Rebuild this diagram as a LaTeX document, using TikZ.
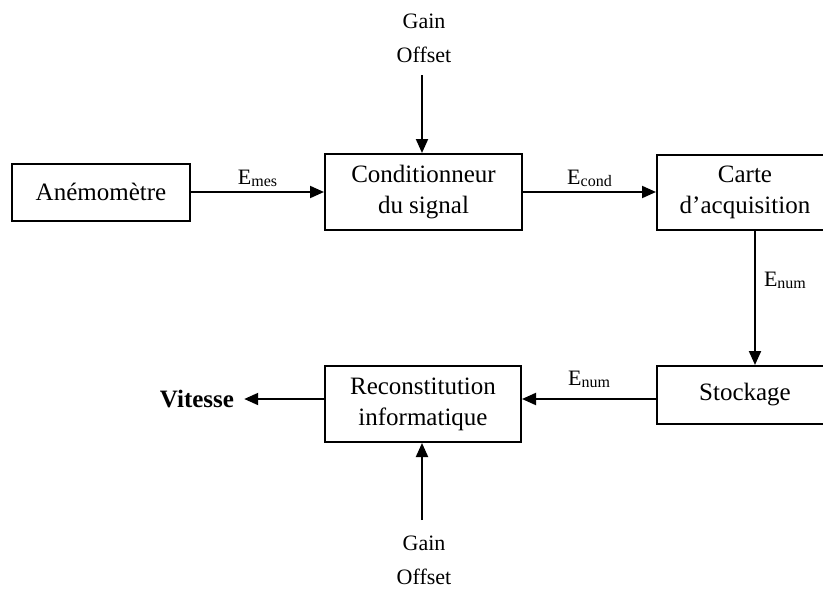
\documentclass[tikz,border=0pt]{standalone}
\usepackage{fontspec}
\setmainfont{Liberation Serif}
\usetikzlibrary{arrows.meta}
\newcommand{\sig}[1]{E\raisebox{-0.12em}{\fontsize{16}{16}\selectfont #1}}
\begin{document}
\begin{tikzpicture}[x=1pt,y=-1pt,
  blk/.style={draw,line width=2pt,align=center,inner sep=0pt,
    font=\fontsize{25}{31}\selectfont},
  con/.style={line width=2pt,-{Triangle[length=14pt,width=12pt]}},
  lbl/.style={font=\fontsize{22}{22}\selectfont,inner sep=0pt},
  par/.style={align=center,font=\fontsize{22}{34}\selectfont,inner sep=0pt}]
\useasboundingbox (0,0) rectangle (823,590);
\node[blk,minimum width=178pt,minimum height=57pt] (anemo) at (101,192) {Anémomètre};
\node[blk,minimum width=197pt,minimum height=76pt] (cond) at (423.5,192) {Conditionneur\\du signal};
\node[blk,minimum width=176pt,minimum height=75pt] (carte) at (745,192) {Carte\\d’acquisition};
\node[blk,minimum width=176pt,minimum height=58pt] (stock) at (745,395) {Stockage};
\node[blk,minimum width=196pt,minimum height=76pt] (recon) at (423,404) {Reconstitution\\informatique};
\node[font=\fontsize{25}{25}\selectfont\bfseries,inner sep=0pt] (vit) at (197,399) {Vitesse};
\node[par] (gtop) at (424,38) {Gain\\Offset};
\node[par] (gbot) at (424,560) {Gain\\Offset};
\coordinate (ttop) at (422,75);
\coordinate (tbot) at (422,520);
\coordinate (ly) at (0,399);
\draw[con] (anemo.east) -- node[lbl,above=4pt] (l1) {\sig{mes}} (cond.west);
\draw[con] (cond.east) -- node[lbl,above=4pt] (l2) {\sig{cond}} (carte.west);
\draw[con] ([xshift=10pt]carte.south) -- node[lbl,right=8pt,pos=0.37] (l3) {\sig{num}} ([xshift=10pt]stock.north);
\draw[con] (stock.west |- ly) -- node[lbl,above=10pt,pos=0.5] (l4) {\sig{num}} (recon.east |- ly);
\draw[con] (recon.west |- ly) -- ([xshift=10pt]vit.east);
\draw[con] (ttop) -- (cond.north -| ttop);
\draw[con] (tbot) -- (recon.south -| tbot);
\end{tikzpicture}
\end{document}
